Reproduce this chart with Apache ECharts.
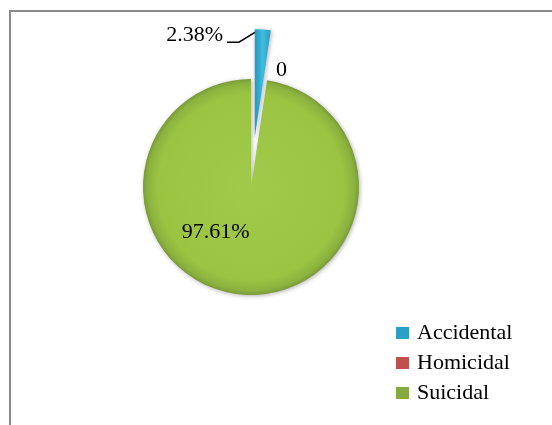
<!DOCTYPE html>
<html>
<head>
<meta charset="utf-8">
<script src="https://cdn.jsdelivr.net/npm/echarts@6/dist/echarts.min.js"></script>
<style>
  html, body { margin: 0; padding: 0; background: #ffffff; }
  #chart { width: 552px; height: 425px; }
</style>
</head>
<body>
<div id="chart"></div>
<script>
// Manner of death shares (percent)
var categories = ['Accidental', 'Homicidal', 'Suicidal'];
var shares = [2.38, 0, 97.61];
var valueLabels = ['2.38%', '0', '97.61%'];
var legendColors = ['#2c9fc6', '#c0504d', '#86aa3e'];

// Pie geometry; the Accidental slice is pulled out of the pie
var CX = 251, CY = 187, R = 108, PULL = 50;
var FONT = 'Liberation Serif, Times New Roman, serif';

var total = shares.reduce(function (a, b) { return a + b; }, 0);
function startAngleOf(i) {
  var s = 0;
  for (var k = 0; k < i; k++) s += shares[k];
  return s / total * 360;
}
function midAngleOf(i) { return startAngleOf(i) + shares[i] / total * 180; }
// point at angle (deg, clockwise from 12 o'clock) and radius around a centre
function polar(c, a, r) {
  return [c[0] + r * Math.sin(a * Math.PI / 180), c[1] - r * Math.cos(a * Math.PI / 180)];
}

var bodyCenter = [CX, CY];
var pulledCenter = polar(bodyCenter, midAngleOf(0), PULL);

var fills = [
  { type: 'linear', x: 0, y: 0, x2: 1, y2: 0, colorStops: [
    { offset: 0, color: '#2797bd' }, { offset: 0.5, color: '#40bde0' }, { offset: 1, color: '#2a9cc2' }] },
  '#c0504d',
  { type: 'radial', x: 0.5, y: 0.5, r: 0.5, colorStops: [
    { offset: 0, color: '#a1ca4a' }, { offset: 0.86, color: '#9bc443' },
    { offset: 0.96, color: '#8bb23e' }, { offset: 1, color: '#7a9a37' }] }
];

var shadow = { shadowBlur: 4, shadowColor: 'rgba(0,0,0,0.3)', shadowOffsetX: 1, shadowOffsetY: 1 };
var hidden = { color: 'rgba(0,0,0,0)', shadowBlur: 0, shadowColor: 'rgba(0,0,0,0)' };

// main body: Homicidal and Suicidal; Accidental leaves an empty gap
var bodyData = categories.map(function (name, i) {
  return {
    name: name,
    value: shares[i],
    itemStyle: i === 0 ? hidden : Object.assign({ color: fills[i] }, shadow),
    label: { show: i !== 0, formatter: valueLabels[i] }
  };
});
// pulled-out Accidental slice
var pulledData = categories.map(function (name, i) {
  return {
    name: name,
    value: shares[i],
    itemStyle: i === 0 ? Object.assign({ color: fills[0] }, shadow) : hidden,
    label: { show: i === 0, formatter: valueLabels[i] },
    labelLine: { show: i === 0 }
  };
});

var labelFont = { fontFamily: FONT, fontSize: 22, color: '#000000' };

var chart = echarts.init(document.getElementById('chart'), null, { renderer: 'canvas' });
chart.setOption({
  animation: false,
  backgroundColor: '#ffffff',
  graphic: [{
    type: 'rect',
    shape: { x: 10, y: 11, width: 600, height: 500 },
    style: { fill: 'none', stroke: '#8a8a8a', lineWidth: 2 },
    silent: true
  }],
  legend: {
    orient: 'vertical',
    left: 391,
    top: 317,
    itemWidth: 13,
    itemHeight: 12,
    itemGap: 8,
    icon: 'rect',
    selectedMode: false,
    data: categories.map(function (n, i) {
      return { name: n, itemStyle: { color: legendColors[i] } };
    }),
    textStyle: { fontFamily: FONT, fontSize: 22, lineHeight: 22, color: '#000000', padding: [0, 0, 0, 3] }
  },
  series: [{
    type: 'pie',
    name: 'body',
    center: bodyCenter,
    radius: R,
    startAngle: 90,
    clockwise: true,
    avoidLabelOverlap: false,
    stillShowZeroSum: true,
    silent: true,
    label: Object.assign({ position: 'outside' }, labelFont),
    labelLine: { show: false },
    labelLayout: function (p) {
      if (p.dataIndex === 1) {
        var q = polar(bodyCenter, startAngleOf(1) + 6, R + 13);
        return { x: q[0], y: q[1], align: 'center', verticalAlign: 'middle' };
      }
      var s = polar(bodyCenter, 218, R * 0.53);
      return { x: s[0], y: s[1], align: 'center', verticalAlign: 'middle' };
    },
    data: bodyData
  }, {
    type: 'pie',
    name: 'pulled',
    center: pulledCenter,
    radius: R,
    startAngle: 90,
    clockwise: true,
    avoidLabelOverlap: false,
    silent: true,
    label: Object.assign({ position: 'outside' }, labelFont),
    labelLine: { lineStyle: { color: '#000000', width: 1.5 } },
    labelLayout: function (p) {
      if (p.dataIndex !== 0) return {};
      var tip = polar(pulledCenter, startAngleOf(0) + 1.2, R - 2);
      var bend = [tip[0] - 18, tip[1] + 11];
      var end = [bend[0] - 12, bend[1]];
      return {
        x: end[0] - 4, y: end[1] - 7,
        align: 'right', verticalAlign: 'middle',
        labelLinePoints: [tip, bend, end]
      };
    },
    data: pulledData
  }]
});
</script>
</body>
</html>
